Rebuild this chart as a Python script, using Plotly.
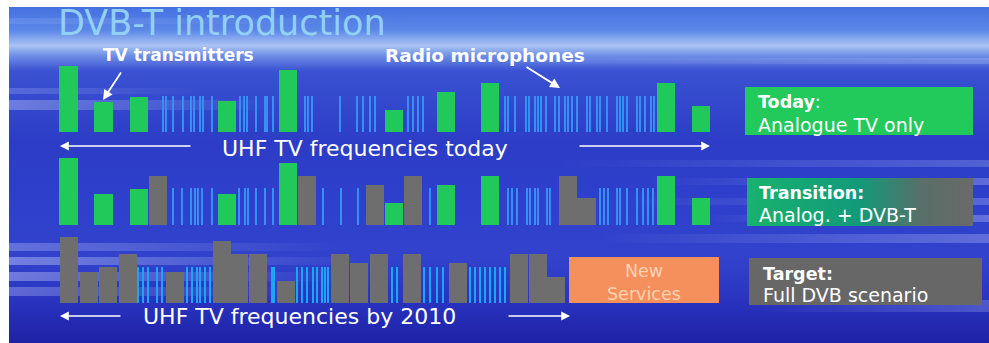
import plotly.graph_objects as go

# ---------------- data ----------------
# Row 1: "Today" - analogue TV transmitters (green) + radio microphones (blue lines)
today_green_x = [68.5, 103.5, 139, 227, 288, 394, 446, 490, 666, 701]
today_green_h = [66, 30, 35, 31, 62, 22, 40, 49, 49, 26]
today_mic_x = [163, 166, 173, 183, 191, 194, 200, 203, 212,
               240, 244, 247, 256, 265, 267, 273,
               305, 308, 312, 340, 357, 363, 370, 375,
               408, 413, 418, 423,
               505, 508, 515, 526, 529, 535, 538, 541, 546, 555, 559, 565, 568,
               572, 577, 587, 590, 597, 600, 607, 617, 620, 623, 627, 637, 640,
               645, 651, 654]
today_mic_h = 36

# Row 2: "Transition" - analogue (green) + DVB-T (gray)
trans_green_x = [68.5, 103.5, 139, 227, 288, 394, 446, 490, 666, 701]
trans_green_h = [67, 31, 36, 31, 62, 22, 40, 49, 49, 27]
trans_gray_x = [158, 307, 375, 413, 568, 586.5]
trans_gray_h = [49, 49, 40, 49, 49, 27]
trans_mic_x = [173, 182, 191, 195, 198, 202, 212,
               239, 245, 248, 256, 265, 273,
               323, 341, 358,
               430,
               508, 512, 517, 527, 530, 535, 538, 547, 550,
               600, 604, 608, 617, 620, 627, 637, 643, 648, 653]
trans_mic_h = 37

# Row 3: "Target" - full DVB (gray)
target_gray_x = [68.5, 89, 108, 127.5, 174.5, 221.5, 239, 257.5, 285.5,
                 340, 359, 379, 411.5, 458, 519, 537.5, 556]
target_gray_h = [66, 31, 36, 49, 31, 62, 49, 49, 22,
                 49, 40, 49, 49, 40, 49, 49, 26]
target_mic_x = [138, 143, 148, 157, 162,
                187, 192, 197, 200, 205, 210,
                272, 274,
                297, 302, 307, 313, 317, 322, 325, 328,
                392, 397,
                424, 430, 437, 443,
                470, 475, 480, 485, 490, 495, 500, 505]
target_mic_h = 36

# ---------------- styling ----------------
W, H = 989, 343
BASE = [132, 225, 303]
BAR_W = 18.5
GRAY_W = 18
MIC_W = 2
GREEN = "#20C95A"
GRAY = "#6E6E6E"
MIC1 = "#3590F4"
MIC3 = "#1AA6F2"
FONT = "DejaVu Sans"

fig = go.Figure()

# background (slide texture) on the base axes
bg_scale = [[0.0, "#4570E0"], [0.07, "#5C88E8"], [0.115, "#A9C4F3"],
            [0.145, "#6E8EE6"], [0.19, "#3A52D2"], [0.40, "#2C3CC6"],
            [0.58, "#2E40CC"], [0.75, "#3242CC"], [0.87, "#2934C0"],
            [1.0, "#1E22A6"]]
fig.add_trace(go.Scatter(x=[9, W, W, 9, 9], y=[7, 7, H, H, 7], mode="none",
                         fill="toself", hoverinfo="skip",
                         fillgradient=dict(type="vertical", colorscale=bg_scale,
                                           start=7, stop=H)))

streaks = [  # x0, x1, y0, y1, alpha, fade direction
    (9, 270, 100, 110, 0.35, "right"),
    (9, 200, 88, 94, 0.2, "right"),
    (9, 340, 243, 251, 0.30, "right"),
    (9, 360, 257, 265, 0.40, "right"),
    (9, 340, 272, 281, 0.38, "right"),
    (9, 300, 287, 296, 0.30, "right"),
    (560, W, 160, 167, 0.22, "left"),
    (650, W, 178, 185, 0.28, "left"),
    (620, W, 198, 205, 0.25, "left"),
    (700, W, 215, 222, 0.30, "left"),
    (600, W, 234, 243, 0.28, "left"),
    (760, W, 300, 312, 0.22, "left"),
    (500, W, 58, 64, 0.20, "left"),
    (9, 420, 18, 24, 0.12, "right"),
]
for x0, x1, y0, y1, a, d in streaks:
    c_on = f"rgba(215,225,255,{a})"
    c_off = "rgba(215,225,255,0)"
    cs = [[0, c_on], [1, c_off]] if d == "right" else [[0, c_off], [1, c_on]]
    fig.add_trace(go.Scatter(x=[x0, x1, x1, x0, x0], y=[y0, y0, y1, y1, y0],
                             mode="none", fill="toself", hoverinfo="skip",
                             fillgradient=dict(type="horizontal", colorscale=cs,
                                               start=x0, stop=x1)))

# transition box with green->gray gradient
fig.add_trace(go.Scatter(x=[747, 973, 973, 747, 747], y=[178, 178, 226, 226, 178],
                         mode="none", fill="toself", hoverinfo="skip",
                         fillgradient=dict(type="horizontal",
                                           colorscale=[[0, "#18B26E"], [0.5, "#129A7A"],
                                                       [0.78, "#5A6E68"], [1, "#6A6A6A"]],
                                           start=747, stop=973)))


def bars(xs, hs, base, width, color):
    # drawn on the overlaid axes so they sit above the background fills
    fig.add_trace(go.Bar(x=xs, y=[-h for h in hs], base=base, width=width,
                         marker=dict(color=color, line=dict(width=0)),
                         hoverinfo="skip", xaxis="x2", yaxis="y2"))


# row 1
bars(today_mic_x, [today_mic_h] * len(today_mic_x), BASE[0], MIC_W, MIC1)
bars(today_green_x, today_green_h, BASE[0], BAR_W, GREEN)
# row 2
bars(trans_mic_x, [trans_mic_h] * len(trans_mic_x), BASE[1], MIC_W, MIC1)
bars(trans_green_x, trans_green_h, BASE[1], BAR_W, GREEN)
bars(trans_gray_x, trans_gray_h, BASE[1], BAR_W, GRAY)
# row 3
bars(target_mic_x, [target_mic_h] * len(target_mic_x), BASE[2], MIC_W, MIC3)
bars(target_gray_x, target_gray_h, BASE[2], GRAY_W, GRAY)

shapes = [
    dict(type="rect", x0=745, x1=973, y0=87, y1=135, fillcolor="#22C95B", line_width=0),
    dict(type="rect", x0=749, x1=982, y0=258, y1=305, fillcolor="#676767", line_width=0),
    dict(type="rect", x0=569, x1=719, y0=257, y1=303, fillcolor="#F5905D", line_width=0),
]

ann = []


def txt(t, x, y, size, color="white", bold=False, xanchor="left", opacity=1):
    ann.append(dict(text=t, x=x, y=y, xref="x", yref="y", xanchor=xanchor,
                    yanchor="middle", showarrow=False, opacity=opacity,
                    font=dict(family=FONT, size=size, color=color,
                              weight="bold" if bold else "normal")))


def arrow(x, y, ax, ay, width=1.6):
    ann.append(dict(text="", x=x, y=y, ax=ax, ay=ay, xref="x", yref="y",
                    axref="x", ayref="y", showarrow=True, arrowhead=2,
                    arrowsize=1.1, arrowwidth=width, arrowcolor="white"))


txt("DVB-T introduction", 56, 23, 35, color="#98D8F6", opacity=0.9)
txt("TV transmitters", 101, 55, 17, bold=True)
txt("Radio microphones", 383, 55, 18.5, bold=True)
txt("UHF TV frequencies today", 220, 148, 22)
txt("UHF TV frequencies by 2010", 141, 316, 22)

txt("<b>Today</b>:", 756, 102, 17.5)
txt("Analogue TV only", 756, 125, 19)
txt("<b>Transition:</b>", 757, 193, 17.5)
txt("Analog. + DVB-T", 757, 215, 19)
txt("<b>Target:</b>", 761, 274, 17.5)
txt("Full DVB scenario", 761, 295, 19)
txt("New", 644, 271, 17.5, color="#FFD2B2", xanchor="center")
txt("Services", 644, 294, 17.5, color="#FFD2B2", xanchor="center")

arrow(60, 146, 192, 146)
arrow(710, 146, 578, 146)
arrow(60, 316, 122, 316)
arrow(570, 316, 507, 316)
arrow(103, 100, 122, 71, 1.8)
arrow(560, 88, 525, 66, 1.8)

fig.update_layout(
    width=W, height=H, margin=dict(l=0, r=0, t=0, b=0),
    paper_bgcolor="white", plot_bgcolor="white",
    showlegend=False, barmode="overlay", bargap=0,
    xaxis=dict(range=[0, W], visible=False, fixedrange=True),
    yaxis=dict(range=[H, 0], visible=False, fixedrange=True),
    xaxis2=dict(range=[0, W], visible=False, fixedrange=True, overlaying="x"),
    yaxis2=dict(range=[H, 0], visible=False, fixedrange=True, overlaying="y"),
    shapes=shapes, annotations=ann,
)

fig.write_html("out.html")
